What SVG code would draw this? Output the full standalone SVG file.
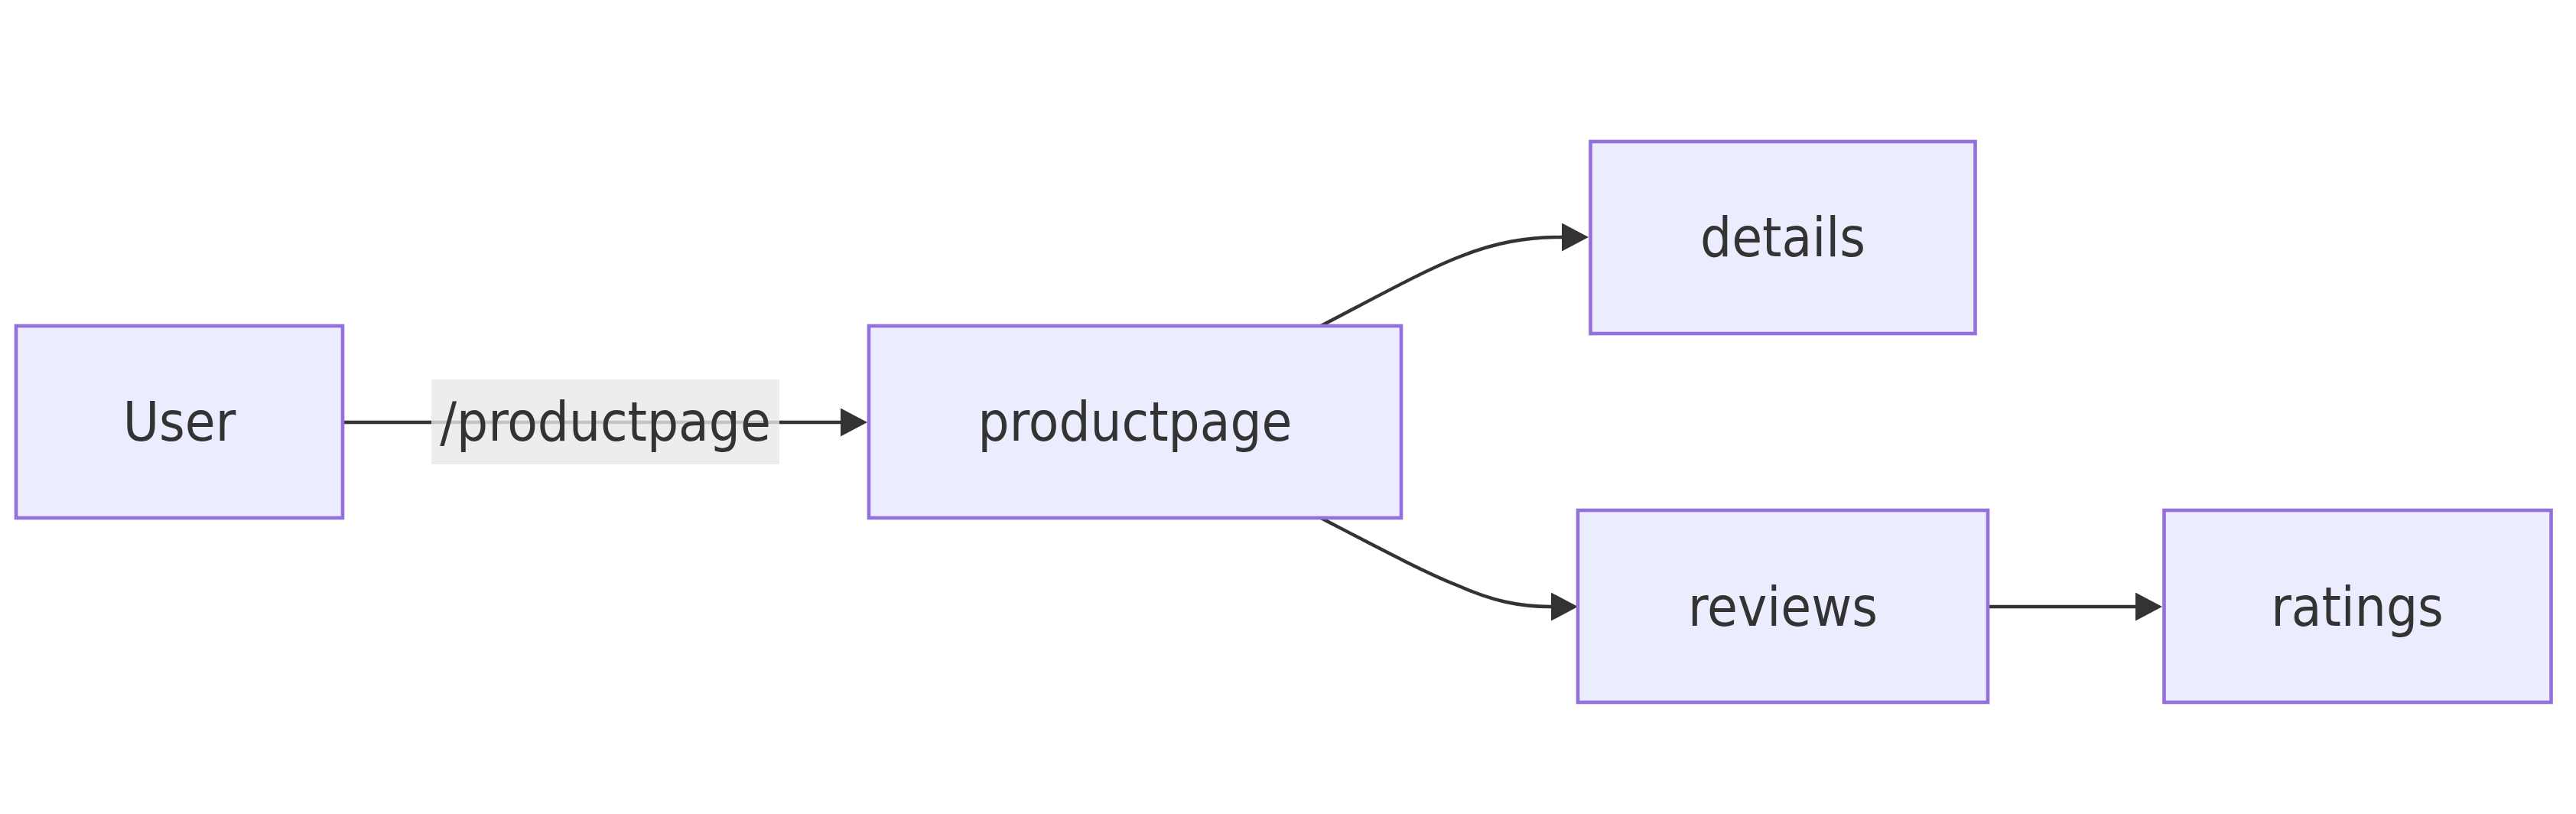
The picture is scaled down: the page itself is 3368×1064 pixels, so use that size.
<svg xmlns="http://www.w3.org/2000/svg" width="3368" height="1064" viewBox="0 0 3368 1064">
<style>
.node rect{fill:#ECECFF;stroke:#9370DB;stroke-width:4.6}
.node text,.lbl text{font-family:"DejaVu Sans Condensed","DejaVu Sans",sans-serif;font-stretch:condensed;font-size:72px;fill:#333333;text-anchor:middle;dominant-baseline:central}
.edge{fill:none;stroke:#333333;stroke-width:4.4}
.lbl rect{fill:#e8e8e8;fill-opacity:0.8}
</style>
<defs>
<marker id="arr" viewBox="0 0 10 10" refX="0" refY="5" markerUnits="userSpaceOnUse" markerWidth="35" markerHeight="37" orient="auto" preserveAspectRatio="none">
<path d="M0,0 L10,5 L0,10 z" fill="#333333"/>
</marker>
</defs>
<rect width="3368" height="1064" fill="#ffffff"/>
<g id="connectors">
<path class="edge" d="M449,552 L1099,552" marker-end="url(#arr)"/>
<path class="edge" d="M1727,426 C1800,388 1865,352 1910,335 C1955,317 1995,310 2042,310" marker-end="url(#arr)"/>
<path class="edge" d="M1727,677 C1800,715 1862,748 1905,765 C1950,785 1985,793 2028,793" marker-end="url(#arr)"/>
<path class="edge" d="M2599,793 L2792,793" marker-end="url(#arr)"/>
<g class="lbl" id="label-productpage">
<rect x="564" y="496" width="455" height="111"/>
<text x="791.5" y="551">/productpage</text>
</g>
</g>
<g id="User" class="node"><rect x="21" y="426" width="427" height="251"/><text x="234.5" y="551">User</text></g>
<g id="productpage" class="node"><rect x="1136" y="426" width="696" height="251"/><text x="1484" y="551">productpage</text></g>
<g id="details" class="node"><rect x="2079.5" y="185" width="503" height="251"/><text x="2331" y="310">details</text></g>
<g id="reviews" class="node"><rect x="2063" y="667" width="536" height="251"/><text x="2331" y="793">reviews</text></g>
<g id="ratings" class="node"><rect x="2829.5" y="667" width="506" height="251"/><text x="3082" y="793">ratings</text></g>
</svg>
